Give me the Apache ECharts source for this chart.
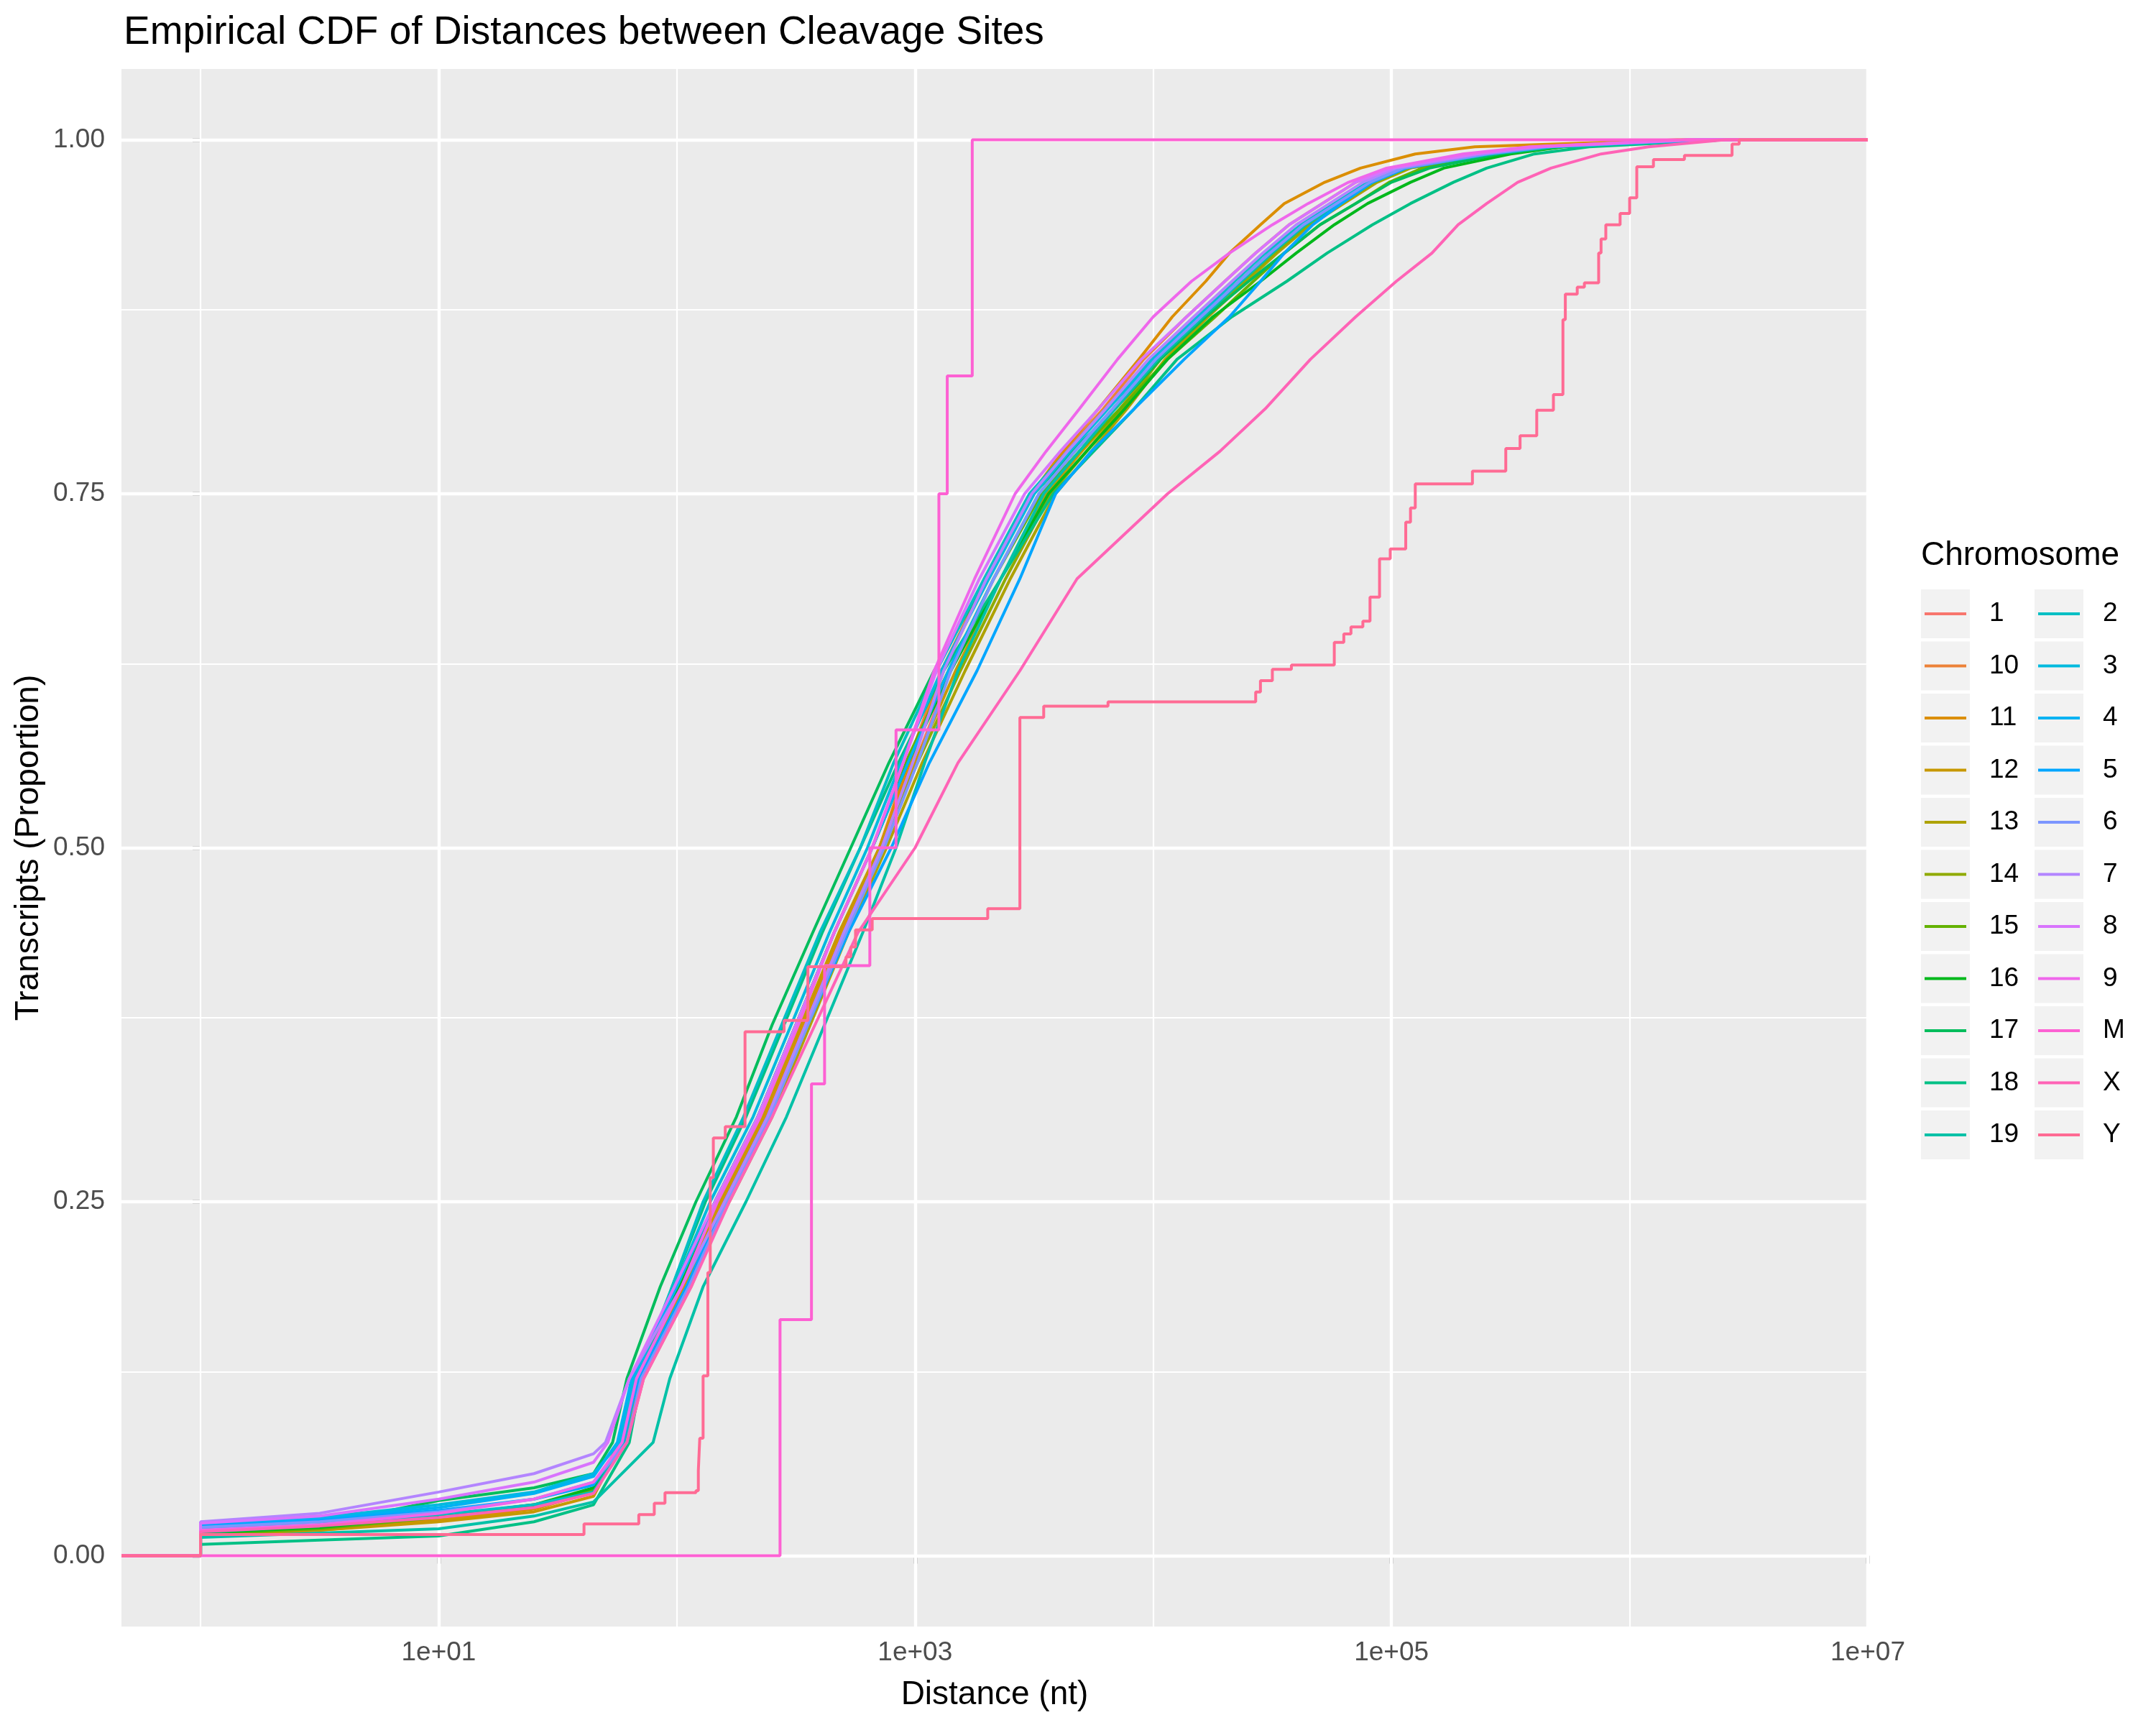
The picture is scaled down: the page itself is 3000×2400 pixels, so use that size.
<!DOCTYPE html>
<html>
<head>
    <meta charset="utf-8">
    <title>ECDF cleavage sites</title>
    <script src="https://cdn.jsdelivr.net/npm/echarts@6/dist/echarts.min.js"></script>
    <style>
        body { margin: 0; background: #fff; }
    </style>
</head>
<body>
    <div id="main" style="width: 3000px;height: 2400px;"></div>
    <script type="text/javascript">
        // chromosome factor levels (ggplot order)
        const chromosomes = ['1', '10', '11', '12', '13', '14', '15', '16', '17', '18', '19',
            '2', '3', '4', '5', '6', '7', '8', '9', 'M', 'X', 'Y'];

        // x values are log10(distance in nt)
        // low tail: proportion read at these log10 distances
        const tailLogs = [0, 0.5, 1.0, 1.4, 1.65];
        // rest of the curve: log10 distance read at these proportions
        const quantileLevels = [0.08, 0.125, 0.19, 0.25, 0.31, 0.375, 0.44, 0.5, 0.56, 0.625, 0.69, 0.75,
            0.78, 0.81, 0.845, 0.875, 0.9, 0.92, 0.94, 0.955, 0.97, 0.98, 0.99, 0.995, 1];

        const tail1  = [0.017, 0.021, 0.028, 0.036, 0.046];
        const tail10 = [0.015, 0.019, 0.026, 0.034, 0.045];
        const tail11 = [0.014, 0.018, 0.025, 0.033, 0.045];
        const tail12 = [0.014, 0.018, 0.024, 0.031, 0.042];
        const tail13 = [0.016, 0.020, 0.027, 0.034, 0.046];
        const tail14 = [0.016, 0.020, 0.027, 0.035, 0.046];
        const tail15 = [0.015, 0.019, 0.027, 0.035, 0.047];
        const tail16 = [0.016, 0.020, 0.028, 0.036, 0.048];
        const tail17 = [0.016, 0.022, 0.039, 0.048, 0.058];
        const tail18 = [0.008, 0.011, 0.014, 0.024, 0.036];
        const tail19 = [0.013, 0.016, 0.019, 0.028, 0.038];
        const tail2  = [0.019, 0.022, 0.029, 0.036, 0.045];
        const tail3  = [0.023, 0.027, 0.036, 0.045, 0.058];
        const tail4  = [0.022, 0.026, 0.034, 0.044, 0.056];
        const tail5  = [0.021, 0.025, 0.032, 0.040, 0.050];
        const tail6  = [0.020, 0.024, 0.031, 0.040, 0.052];
        const tail7  = [0.024, 0.030, 0.045, 0.058, 0.072];
        const tail8  = [0.023, 0.028, 0.040, 0.052, 0.066];
        const tail9  = [0.018, 0.022, 0.030, 0.040, 0.052];
        const tailX  = [0.017, 0.021, 0.027, 0.034, 0.044];

        const dist1  = [1.79, 1.86, 2.06, 2.21, 2.39, 2.55, 2.71, 2.87, 3.00, 3.15, 3.33, 3.52, 3.67, 3.83, 4.01, 4.20, 4.36, 4.49, 4.63, 4.77, 4.92, 5.07, 5.42, 5.68, 6.35];
        const dist10 = [1.77, 1.84, 2.04, 2.19, 2.37, 2.53, 2.69, 2.85, 2.97, 3.11, 3.30, 3.49, 3.63, 3.79, 3.96, 4.14, 4.30, 4.43, 4.57, 4.71, 4.85, 5.00, 5.33, 5.60, 6.25];
        const dist11 = [1.78, 1.84, 2.03, 2.19, 2.37, 2.53, 2.69, 2.85, 2.98, 3.12, 3.30, 3.49, 3.62, 3.77, 3.94, 4.08, 4.22, 4.32, 4.45, 4.55, 4.72, 4.87, 5.10, 5.35, 6.20];
        const dist12 = [1.77, 1.83, 2.02, 2.18, 2.36, 2.52, 2.68, 2.85, 3.00, 3.17, 3.36, 3.55, 3.70, 3.86, 4.03, 4.21, 4.36, 4.49, 4.63, 4.77, 4.91, 5.05, 5.40, 5.65, 6.30];
        const dist13 = [1.78, 1.85, 2.05, 2.22, 2.40, 2.56, 2.72, 2.88, 3.03, 3.21, 3.40, 3.59, 3.74, 3.89, 4.05, 4.23, 4.39, 4.52, 4.66, 4.80, 4.94, 5.08, 5.42, 5.68, 6.35];
        const dist14 = [1.77, 1.84, 2.04, 2.20, 2.38, 2.54, 2.70, 2.86, 3.01, 3.19, 3.38, 3.57, 3.72, 3.87, 4.03, 4.22, 4.38, 4.51, 4.65, 4.79, 4.93, 5.07, 5.42, 5.67, 6.35];
        const dist15 = [1.76, 1.82, 2.01, 2.16, 2.34, 2.50, 2.66, 2.82, 2.96, 3.14, 3.33, 3.53, 3.69, 3.86, 4.06, 4.26, 4.42, 4.55, 4.70, 4.85, 4.99, 5.13, 5.46, 5.72, 6.40];
        const dist16 = [1.77, 1.83, 2.01, 2.16, 2.34, 2.50, 2.66, 2.82, 2.97, 3.15, 3.36, 3.56, 3.72, 3.88, 4.06, 4.25, 4.45, 4.60, 4.76, 4.90, 5.08, 5.22, 5.50, 5.72, 6.40];
        const dist17 = [1.73, 1.79, 1.93, 2.08, 2.25, 2.40, 2.57, 2.73, 2.89, 3.08, 3.30, 3.50, 3.66, 3.84, 4.03, 4.22, 4.40, 4.55, 4.70, 4.85, 5.00, 5.16, 5.45, 5.70, 6.40];
        const dist18 = [1.80, 1.85, 1.98, 2.12, 2.29, 2.45, 2.61, 2.77, 2.93, 3.12, 3.36, 3.58, 3.75, 3.92, 4.10, 4.33, 4.56, 4.73, 4.92, 5.08, 5.26, 5.40, 5.60, 5.83, 6.40];
        const dist19 = [1.90, 1.97, 2.11, 2.29, 2.46, 2.62, 2.78, 2.92, 3.04, 3.18, 3.36, 3.54, 3.69, 3.84, 4.02, 4.21, 4.37, 4.50, 4.64, 4.78, 4.92, 5.06, 5.42, 5.68, 6.35];
        const dist2  = [1.78, 1.83, 1.98, 2.11, 2.28, 2.44, 2.60, 2.77, 2.91, 3.09, 3.29, 3.48, 3.64, 3.80, 3.99, 4.18, 4.34, 4.47, 4.62, 4.76, 4.90, 5.04, 5.38, 5.63, 6.30];
        const dist3  = [1.76, 1.82, 1.99, 2.14, 2.32, 2.48, 2.64, 2.80, 2.94, 3.11, 3.31, 3.50, 3.65, 3.81, 4.00, 4.19, 4.36, 4.49, 4.63, 4.77, 4.91, 5.05, 5.40, 5.65, 6.30];
        const dist4  = [1.75, 1.81, 2.00, 2.16, 2.34, 2.50, 2.66, 2.82, 2.97, 3.14, 3.33, 3.52, 3.67, 3.83, 4.01, 4.20, 4.36, 4.49, 4.63, 4.77, 4.91, 5.05, 5.40, 5.65, 6.30];
        const dist5  = [1.77, 1.84, 2.04, 2.20, 2.38, 2.55, 2.72, 2.90, 3.06, 3.26, 3.44, 3.59, 3.74, 3.92, 4.13, 4.32, 4.45, 4.55, 4.67, 4.79, 4.92, 5.06, 5.40, 5.65, 6.30];
        const dist6  = [1.79, 1.85, 2.05, 2.21, 2.39, 2.55, 2.71, 2.87, 3.01, 3.15, 3.33, 3.52, 3.67, 3.83, 4.01, 4.20, 4.36, 4.49, 4.63, 4.77, 4.91, 5.05, 5.40, 5.65, 6.30];
        const dist7  = [1.70, 1.80, 2.02, 2.20, 2.38, 2.54, 2.70, 2.86, 2.99, 3.12, 3.30, 3.49, 3.64, 3.80, 3.98, 4.17, 4.33, 4.46, 4.60, 4.74, 4.88, 5.02, 5.36, 5.62, 6.25];
        const dist8  = [1.71, 1.80, 1.99, 2.16, 2.34, 2.50, 2.66, 2.82, 2.95, 3.09, 3.27, 3.46, 3.61, 3.77, 3.95, 4.14, 4.30, 4.43, 4.57, 4.71, 4.85, 5.00, 5.35, 5.60, 6.25];
        const dist9  = [1.77, 1.83, 2.02, 2.17, 2.35, 2.51, 2.66, 2.82, 2.95, 3.08, 3.25, 3.42, 3.55, 3.69, 3.85, 4.00, 4.16, 4.32, 4.50, 4.65, 4.82, 4.98, 5.30, 5.58, 6.25];
        const distX  = [1.79, 1.86, 2.06, 2.22, 2.40, 2.58, 2.76, 3.00, 3.18, 3.44, 3.68, 4.06, 4.28, 4.47, 4.66, 4.85, 5.02, 5.17, 5.28, 5.40, 5.53, 5.67, 5.88, 6.08, 6.40];

        // few-point chromosomes: [log10 distance, proportion] steps
        const stepsM = [[2.433, 0.1667], [2.565, 0.3333], [2.62, 0.4167], [2.81, 0.5], [2.92, 0.5833],
            [3.10, 0.75], [3.135, 0.8333], [3.24, 1]];
        const stepsY = [[0, 0.015], [1.61, 0.0225], [1.84, 0.029], [1.905, 0.037], [1.95, 0.0445],
            [2.08, 0.046], [2.09, 0.06], [2.096, 0.083], [2.11, 0.127], [2.13, 0.2], [2.14, 0.267],
            [2.153, 0.295], [2.203, 0.303], [2.286, 0.37], [2.45, 0.378], [2.55, 0.416], [2.71, 0.423],
            [2.73, 0.43], [2.75, 0.442], [2.82, 0.45], [3.305, 0.457], [3.44, 0.592], [3.54, 0.6],
            [3.81, 0.603], [4.43, 0.61], [4.45, 0.618], [4.50, 0.626], [4.58, 0.629], [4.76, 0.645],
            [4.80, 0.651], [4.83, 0.656], [4.88, 0.66], [4.91, 0.677], [4.95, 0.704], [4.995, 0.711],
            [5.06, 0.73], [5.08, 0.74], [5.10, 0.757], [5.34, 0.766], [5.48, 0.782], [5.54, 0.791],
            [5.61, 0.809], [5.68, 0.82], [5.72, 0.873], [5.73, 0.891], [5.78, 0.896], [5.81, 0.899],
            [5.87, 0.92], [5.88, 0.93], [5.90, 0.94], [5.96, 0.948], [6.00, 0.959], [6.03, 0.981],
            [6.10, 0.986], [6.23, 0.989], [6.43, 0.997], [6.46, 1.0]];

        // axis breaks (log10 units for x)
        const xMajorBreaks = [1, 3, 5, 7];
        const xMinorBreaks = [0, 2, 4, 6];
        const yMajorBreaks = [0, 0.25, 0.5, 0.75, 1];
        const yMinorBreaks = [0.125, 0.375, 0.625, 0.875];

        const X_MIN = -0.332, X_MAX = 7;

        const tails = {
            '1': tail1, '10': tail10, '11': tail11, '12': tail12, '13': tail13, '14': tail14, '15': tail15,
            '16': tail16, '17': tail17, '18': tail18, '19': tail19, '2': tail2, '3': tail3, '4': tail4,
            '5': tail5, '6': tail6, '7': tail7, '8': tail8, '9': tail9, 'X': tailX
        };
        const dists = {
            '1': dist1, '10': dist10, '11': dist11, '12': dist12, '13': dist13, '14': dist14, '15': dist15,
            '16': dist16, '17': dist17, '18': dist18, '19': dist19, '2': dist2, '3': dist3, '4': dist4,
            '5': dist5, '6': dist6, '7': dist7, '8': dist8, '9': dist9, 'X': distX
        };
        const steps = { 'M': stepsM, 'Y': stepsY };

        // ggplot hue_pal colours (hcl with c=100, l=65)
        function hcl(h, c, l) {
            const WHITE_Y = 100, WHITE_u = 0.1978398, WHITE_v = 0.4683363;
            const hr = h * Math.PI / 180;
            const U = c * Math.cos(hr), V = c * Math.sin(hr);
            const Y = WHITE_Y * (l > 7.999592 ? Math.pow((l + 16) / 116, 3) : l / 903.3);
            const u = U / (13 * l) + WHITE_u, v = V / (13 * l) + WHITE_v;
            const X = 9 * Y * u / (4 * v);
            const Z = -X / 3 - 5 * Y + 3 * Y / v;
            const g = function (t) {
                t = t > 0.00304 ? 1.055 * Math.pow(t, 1 / 2.4) - 0.055 : 12.92 * t;
                return Math.round(255 * Math.min(1, Math.max(0, t)));
            };
            const r = g((3.240479 * X - 1.537150 * Y - 0.498535 * Z) / WHITE_Y);
            const gg = g((-0.969256 * X + 1.875992 * Y + 0.041556 * Z) / WHITE_Y);
            const b = g((0.055648 * X - 0.204043 * Y + 1.057311 * Z) / WHITE_Y);
            return 'rgb(' + r + ',' + gg + ',' + b + ')';
        }
        const palette = chromosomes.map(function (c, i) { return hcl(15 + 360 * i / chromosomes.length, 100, 65); });

        function ecdfPoints(name) {
            if (steps[name]) {
                return [[X_MIN, 0]].concat(steps[name], [[X_MAX, 1]]);
            }
            const pts = [[X_MIN, 0], [0, 0]];
            tailLogs.forEach(function (x, i) { pts.push([x, tails[name][i]]); });
            dists[name].forEach(function (x, i) { pts.push([x, quantileLevels[i]]); });
            pts.push([X_MAX, 1]);
            return pts;
        }

        const FONT = "'Liberation Sans', Arial, sans-serif";

        var myChart = echarts.init(document.getElementById('main'));

        // white panel grid, drawn as mark lines under the curves
        const gridLines = []
            .concat(xMinorBreaks.map(function (v) { return { xAxis: v, lineStyle: { color: '#fff', width: 2.2, type: 'solid' } }; }))
            .concat(yMinorBreaks.map(function (v) { return { yAxis: v, lineStyle: { color: '#fff', width: 2.2, type: 'solid' } }; }))
            .concat(xMajorBreaks.map(function (v) { return { xAxis: v, lineStyle: { color: '#fff', width: 4.4, type: 'solid' } }; }))
            .concat(yMajorBreaks.map(function (v) { return { yAxis: v, lineStyle: { color: '#fff', width: 4.4, type: 'solid' } }; }));

        const series = [{
            name: 'panel-grid',
            type: 'line',
            data: [],
            silent: true,
            z: 1,
            markLine: {
                silent: true,
                z: 1,
                symbol: ['none', 'none'],
                label: { show: false },
                animation: false,
                data: gridLines
            }
        }];

        chromosomes.forEach(function (name, i) {
            series.push({
                name: name,
                type: 'line',
                data: ecdfPoints(name),
                step: steps[name] ? 'end' : false,
                showSymbol: false,
                symbol: 'none',
                z: 3,
                silent: true,
                color: palette[i],
                lineStyle: { width: 4, color: palette[i] }
            });
        });

        // legend key boxes
        const keyBoxes = [];
        for (let i = 0; i < 11; i++) {
            keyBoxes.push({ type: 'rect', left: 2673, top: 820 + i * 72.5, shape: { width: 68, height: 68 }, style: { fill: '#F2F2F2' }, z: 0 });
            keyBoxes.push({ type: 'rect', left: 2831, top: 820 + i * 72.5, shape: { width: 68, height: 68 }, style: { fill: '#F2F2F2' }, z: 0 });
        }

        const legendCommon = {
            orient: 'vertical',
            top: 820,
            itemWidth: 58,
            itemHeight: 68,
            itemGap: 4.5,
            padding: 0,
            icon: 'path://M0,0H58V4H0Z',
            symbolKeepAspect: true,
            selectedMode: false,
            textStyle: { fontSize: 37, lineHeight: 68, color: '#000', fontFamily: FONT, padding: [0, 0, 0, 27] }
        };

        var option = {
            animation: false,
            backgroundColor: '#fff',
            textStyle: { fontFamily: FONT },
            title: [{
                text: 'Empirical CDF of Distances between Cleavage Sites',
                left: 172,
                top: 18,
                padding: 0,
                textStyle: { fontSize: 55, fontWeight: 'normal', color: '#000', fontFamily: FONT }
            }, {
                text: 'Chromosome',
                left: 2673,
                top: 750,
                padding: 0,
                textStyle: { fontSize: 46, fontWeight: 'normal', color: '#000', fontFamily: FONT }
            }],
            legend: [
                Object.assign({ left: 2678, data: chromosomes.slice(0, 11) }, legendCommon),
                Object.assign({ left: 2836, data: chromosomes.slice(11) }, legendCommon)
            ],
            graphic: { elements: keyBoxes },
            grid: {
                left: 169,
                top: 96,
                width: 2430,
                height: 2167,
                show: true,
                backgroundColor: '#EBEBEB',
                borderWidth: 0
            },
            xAxis: {
                type: 'value',
                min: X_MIN,
                max: X_MAX,
                name: 'Distance (nt)',
                nameLocation: 'middle',
                nameGap: 72,
                nameTextStyle: { fontSize: 46, color: '#000', fontFamily: FONT },
                axisLine: { show: false },
                splitLine: { show: false },
                axisTick: {
                    show: true,
                    customValues: xMajorBreaks,
                    length: 11,
                    lineStyle: { color: '#333', width: 4.4 }
                },
                axisLabel: {
                    customValues: xMajorBreaks,
                    margin: 18,
                    fontSize: 37,
                    color: '#4D4D4D',
                    fontFamily: FONT,
                    formatter: function (v) { return '1e+' + (v < 10 ? '0' : '') + v; }
                }
            },
            yAxis: {
                type: 'value',
                min: -0.05,
                max: 1.05,
                name: 'Transcripts (Proportion)',
                nameLocation: 'middle',
                nameGap: 100,
                nameTextStyle: { fontSize: 46, color: '#000', fontFamily: FONT },
                axisLine: { show: false },
                splitLine: { show: false },
                axisTick: {
                    show: true,
                    customValues: yMajorBreaks,
                    length: 11,
                    lineStyle: { color: '#333', width: 4.4 }
                },
                axisLabel: {
                    customValues: yMajorBreaks,
                    margin: 23,
                    fontSize: 37,
                    color: '#4D4D4D',
                    fontFamily: FONT,
                    formatter: function (v) { return v.toFixed(2); }
                }
            },
            series: series
        };

        myChart.setOption(option);

        window.onresize = myChart.resize;
    </script>
</body>
</html>
